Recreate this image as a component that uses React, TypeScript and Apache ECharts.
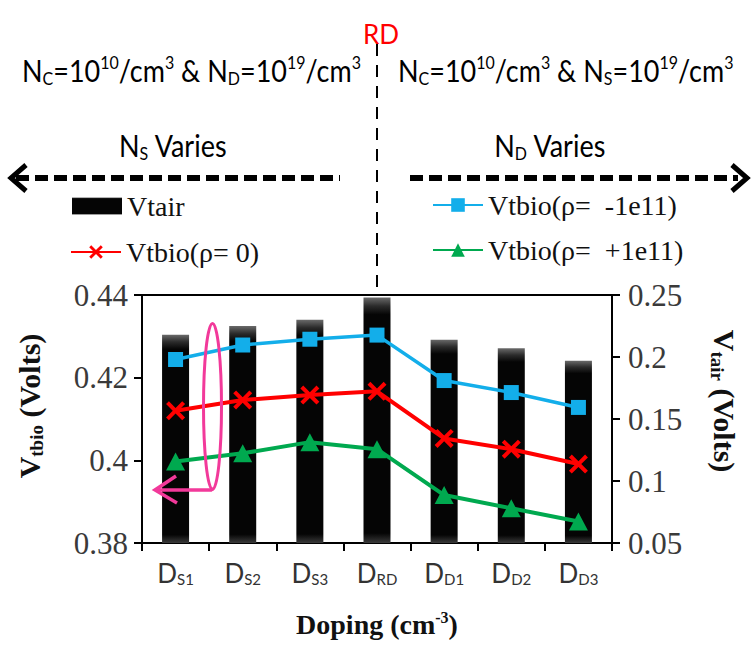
import React, { useEffect, useRef } from 'react';
import * as echarts from 'echarts';

// Doping points along the x axis (D + subscript)
const categories = ['DS1', 'DS2', 'DS3', 'DRD', 'DD1', 'DD2', 'DD3'];

// Vtair bars (right axis, Volts)
const vtair = [0.218, 0.225, 0.23, 0.248, 0.214, 0.207, 0.197];

// Vtbio curves (left axis, Volts)
const vtbioNeg = [0.4244, 0.4279, 0.4293, 0.4303, 0.4193, 0.4164, 0.4128];
const vtbioZero = [0.412, 0.4146, 0.4158, 0.4167, 0.4053, 0.4027, 0.3991];
const vtbioPos = [0.3997, 0.4017, 0.4044, 0.4027, 0.3916, 0.3884, 0.3852];

// Axis ranges
const leftRange = [0.38, 0.44];
const leftStep = 0.02;
const rightRange = [0.05, 0.25];
const rightStep = 0.05;

const seriesNames = ['Vtair', 'Vtbio(ρ= 0)', 'Vtbio(ρ=  -1e11)', 'Vtbio(ρ=  +1e11)'];

const SERIF = '"Liberation Serif", "Times New Roman", serif';
const SANS = 'Lato, "Open Sans", sans-serif';
const CROSS = 'path://M3,0 L10,7 L17,0 L20,3 L13,10 L20,17 L17,20 L10,13 L3,20 L0,17 L7,10 L0,3 Z';

const BLUE = '#13aeea';
const RED = '#ff0000';
const GREEN = '#00a94f';
const PINK = '#f2399a';

const barFill = new echarts.graphic.LinearGradient(0, 0, 0, 1, [
  { offset: 0, color: '#6a6a6a' },
  { offset: 0.035, color: '#2b2b2b' },
  { offset: 0.07, color: '#050505' },
  { offset: 0.96, color: '#050505' },
  { offset: 1, color: '#3a3a3a' },
]);

const topRich = {
  m: { fontSize: 27, fontFamily: SANS, color: '#111' },
  sub: { fontSize: 16, fontFamily: SANS, color: '#111', padding: [14, 0, 0, 0] },
  sup: { fontSize: 16, fontFamily: SANS, color: '#111', padding: [0, 0, 14, 0] },
};

const dashedArrow = (x1: number, x2: number, y: number) => ({
  type: 'line',
  shape: { x1, y1: y, x2, y2: y },
  style: { stroke: '#000', lineWidth: 6, lineDash: [13, 6] },
});

const legendBase = {
  orient: 'horizontal',
  padding: 0,
  itemWidth: 50,
  itemHeight: 17,
  textStyle: { fontFamily: SERIF, fontSize: 28, color: '#111' },
};

export default function App() {
  const ref = useRef<HTMLDivElement>(null);

  useEffect(() => {
    document.body.style.margin = '0';
    if (!ref.current) return;
    const chart = echarts.init(ref.current, undefined, { renderer: 'svg' });

    const option = {
      animation: false,
      backgroundColor: '#fff',
      grid: {
        left: 142,
        right: 140,
        top: 295,
        bottom: 113,
        show: true,
        borderColor: '#000',
        borderWidth: 2,
        backgroundColor: 'transparent',
      },
      legend: [
        { ...legendBase, data: [{ name: seriesNames[0], icon: 'rect' }], left: 72, top: 192 },
        { ...legendBase, data: [seriesNames[1]], left: 70, top: 238 },
        { ...legendBase, data: [seriesNames[2]], left: 432, top: 191 },
        { ...legendBase, data: [seriesNames[3]], left: 432, top: 236 },
      ],
      xAxis: {
        type: 'category',
        data: categories,
        axisLine: { lineStyle: { color: '#000', width: 2 } },
        axisTick: { show: true, interval: 0, length: 8, lineStyle: { color: '#000', width: 2 } },
        axisLabel: {
          interval: 0,
          margin: 16,
          formatter: (v: string) => `{d|D}{s|${v.slice(1)}}`,
          rich: {
            d: { fontSize: 26, fontFamily: SANS, color: '#333' },
            s: { fontSize: 15, fontFamily: SANS, color: '#333', padding: [12, 0, 0, 0] },
          },
        },
        name: '{b|Doping (cm}{sup|-3}{b|)}',
        nameLocation: 'middle',
        nameGap: 66,
        nameTextStyle: {
          rich: {
            b: { fontSize: 28, fontWeight: 'bold', fontFamily: SERIF, color: '#111' },
            sup: { fontSize: 16, fontWeight: 'bold', fontFamily: SERIF, color: '#111', padding: [0, 0, 14, 0] },
          },
        },
      },
      yAxis: [
        {
          type: 'value',
          min: leftRange[0],
          max: leftRange[1],
          interval: leftStep,
          splitLine: { show: false },
          axisLine: { show: true, lineStyle: { color: '#000', width: 2 } },
          axisTick: { show: true, length: 8, lineStyle: { color: '#000', width: 2 } },
          axisLabel: { margin: 14, fontSize: 31, fontFamily: SERIF, color: '#3a3a3a' },
          name: '{v|V}{s|tbio}{v| (Volts)}',
          nameLocation: 'middle',
          nameRotate: 90,
          nameGap: 96,
          nameTextStyle: {
            padding: [0, 0, 0, 26],
            rich: {
              v: { fontSize: 30, fontWeight: 'bold', fontFamily: SERIF, color: '#111' },
              s: { fontSize: 19, fontWeight: 'bold', fontFamily: SERIF, color: '#111', padding: [14, 0, 0, 0] },
            },
          },
        },
        {
          type: 'value',
          position: 'right',
          min: rightRange[0],
          max: rightRange[1],
          interval: rightStep,
          splitLine: { show: false },
          axisLine: { show: true, lineStyle: { color: '#000', width: 2 } },
          axisTick: { show: true, length: 8, lineStyle: { color: '#000', width: 2 } },
          axisLabel: { margin: 16, fontSize: 31, fontFamily: SERIF, color: '#3a3a3a' },
          name: '{v|V}{s|tair}{v| (Volts)}',
          nameLocation: 'middle',
          nameRotate: -90,
          nameGap: 96,
          nameTextStyle: {
            padding: [0, 36, 0, 0],
            rich: {
              v: { fontSize: 30, fontWeight: 'bold', fontFamily: SERIF, color: '#111' },
              s: { fontSize: 19, fontWeight: 'bold', fontFamily: SERIF, color: '#111', padding: [14, 0, 0, 0] },
            },
          },
        },
      ],
      series: [
        {
          name: seriesNames[0],
          type: 'bar',
          yAxisIndex: 1,
          data: vtair,
          barWidth: 27,
          itemStyle: { color: barFill },
          z: 1,
        },
        {
          name: seriesNames[1],
          type: 'line',
          yAxisIndex: 0,
          data: vtbioZero,
          symbol: CROSS,
          symbolSize: 19,
          itemStyle: { color: RED },
          lineStyle: { color: RED, width: 4 },
          z: 3,
        },
        {
          name: seriesNames[2],
          type: 'line',
          yAxisIndex: 0,
          data: vtbioNeg,
          symbol: 'rect',
          symbolSize: 15,
          itemStyle: { color: BLUE },
          lineStyle: { color: BLUE, width: 3.5 },
          z: 3,
        },
        {
          name: seriesNames[3],
          type: 'line',
          yAxisIndex: 0,
          data: vtbioPos,
          symbol: 'triangle',
          symbolSize: [19, 18],
          itemStyle: { color: GREEN },
          lineStyle: { color: GREEN, width: 4 },
          z: 3,
        },
      ],
      graphic: [
        {
          type: 'text',
          x: 381,
          y: 34,
          style: {
            text: 'RD',
            fill: RED,
            font: `26px ${SANS}`,
            align: 'center',
            verticalAlign: 'middle',
          },
        },
        {
          type: 'line',
          shape: { x1: 377, y1: 44, x2: 377, y2: 295 },
          style: { stroke: '#000', lineWidth: 2, lineDash: [12, 9] },
        },
        {
          type: 'text',
          x: 22,
          y: 70,
          scaleY: 1.12,
          style: {
            text: '{m|N}{sub|C}{m|=10}{sup|10}{m|/cm}{sup|3}{m| & N}{sub|D}{m|=10}{sup|19}{m|/cm}{sup|3}',
            rich: topRich,
            verticalAlign: 'middle',
          },
        },
        {
          type: 'text',
          x: 398,
          y: 70,
          scaleY: 1.12,
          style: {
            text: '{m|N}{sub|C}{m|=10}{sup|10}{m|/cm}{sup|3}{m| & N}{sub|S}{m|=10}{sup|19}{m|/cm}{sup|3}',
            rich: topRich,
            verticalAlign: 'middle',
          },
        },
        {
          type: 'text',
          x: 173,
          y: 145,
          scaleY: 1.12,
          style: {
            text: '{m|N}{sub|S}{m| Varies}',
            rich: topRich,
            align: 'center',
            verticalAlign: 'middle',
          },
        },
        {
          type: 'text',
          x: 550,
          y: 145,
          scaleY: 1.12,
          style: {
            text: '{m|N}{sub|D}{m| Varies}',
            rich: topRich,
            align: 'center',
            verticalAlign: 'middle',
          },
        },
        dashedArrow(16, 340, 178),
        {
          type: 'polyline',
          shape: { points: [[26, 165], [11, 178], [26, 191]] },
          style: { stroke: '#000', lineWidth: 5, fill: 'none' },
        },
        dashedArrow(410, 738, 178),
        {
          type: 'polyline',
          shape: { points: [[732, 165], [747, 178], [732, 191]] },
          style: { stroke: '#000', lineWidth: 5, fill: 'none' },
        },
        {
          type: 'ellipse',
          shape: { cx: 212.5, cy: 406.5, rx: 9, ry: 83 },
          style: { fill: 'none', stroke: PINK, lineWidth: 3 },
          z: 10,
        },
        {
          type: 'polyline',
          shape: { points: [[213, 488], [211, 490], [155, 490]] },
          style: { stroke: PINK, lineWidth: 3.5, fill: 'none' },
          z: 10,
        },
        {
          type: 'polyline',
          shape: { points: [[176, 476], [155, 490], [177, 503]] },
          style: { stroke: PINK, lineWidth: 3.5, fill: 'none' },
          z: 10,
        },
      ],
    };

    chart.setOption(option as any);
    return () => chart.dispose();
  }, []);

  return <div ref={ref} style={{ width: 752, height: 656 }} />;
}
